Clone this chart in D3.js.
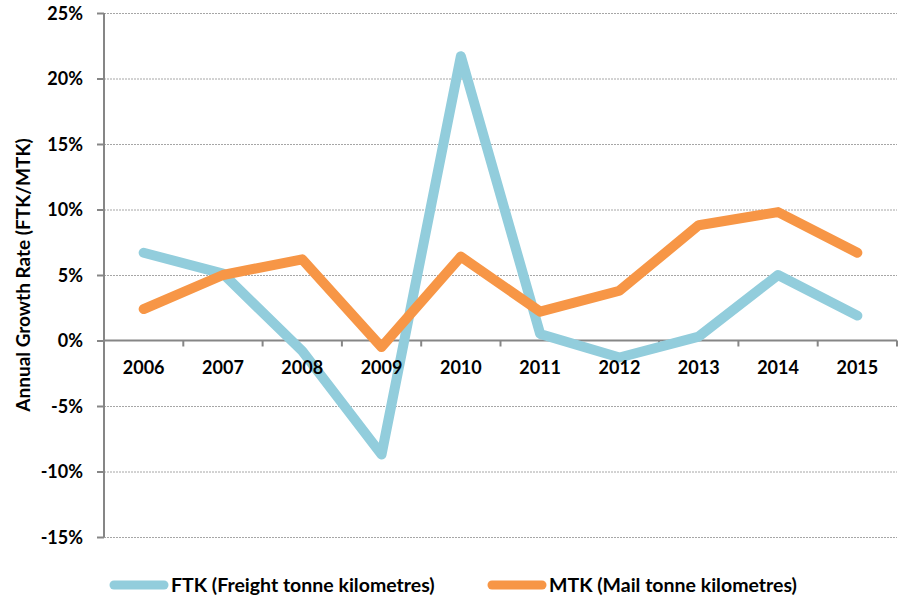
<!DOCTYPE html>
<html>
<head>
<meta charset="utf-8">
<script src="https://cdn.jsdelivr.net/npm/d3@7"></script>
<style>
  body { margin: 0; background: #fff; }
  text { font-family: Lato, "Open Sans", sans-serif; font-weight: bold; fill: #000; }
</style>
</head>
<body>
<svg></svg>
<script>
var width = 899;
var height = 599;

var years = ["2006", "2007", "2008", "2009", "2010", "2011", "2012", "2013", "2014", "2015"];
var ftk = [6.7, 5.1, -0.8, -8.7, 21.7, 0.5, -1.3, 0.3, 5.0, 1.9];
var mtk = [2.4, 5.0, 6.2, -0.5, 6.4, 2.2, 3.8, 8.8, 9.8, 6.7];
var yTicks = [-15, -10, -5, 0, 5, 10, 15, 20, 25];
var seriesNames = ["FTK (Freight tonne kilometres)", "MTK (Mail tonne kilometres)"];
var seriesColors = ["#92cddc", "#f79646"];

var plotLeft = 104, plotRight = 897, plotTop = 13, plotBottom = 537;

var svg = d3.select("svg").attr("width", width).attr("height", height);

var x = d3.scaleBand().domain(years).range([plotLeft, plotRight]).padding(0);
var y = d3.scaleLinear().domain([-15, 25]).range([plotBottom, plotTop]);

// dotted gridlines
svg.append("g").selectAll("line")
  .data(yTicks.filter(function (d) { return d != 0; }))
  .enter().append("line")
  .attr("x1", plotLeft).attr("x2", plotRight)
  .attr("y1", function (d) { return y(d) + 0.5; })
  .attr("y2", function (d) { return y(d) + 0.5; })
  .attr("stroke", "#a6a6a6")
  .attr("stroke-width", 1)
  .attr("stroke-dasharray", "2,1");

// y axis
var yAxis = svg.append("g")
  .attr("transform", "translate(" + plotLeft + ",0)")
  .call(d3.axisLeft(y).tickValues(yTicks).tickSize(7).tickPadding(14)
    .tickFormat(function (d) { return d + "%"; }));
yAxis.selectAll("path, line").attr("stroke", "#868686").attr("stroke-width", 2);
yAxis.select("path").attr("d", "M0," + plotTop + "V" + plotBottom);
yAxis.selectAll("text").style("font-size", "18px").attr("dy", "0.35em");

// x axis on zero line
var xAxis = svg.append("g")
  .attr("transform", "translate(0," + y(0) + ")");
xAxis.append("line")
  .attr("x1", plotLeft).attr("x2", plotRight)
  .attr("stroke", "#868686").attr("stroke-width", 2);
xAxis.selectAll(".tick")
  .data(years)
  .enter().append("line")
  .attr("x1", function (d) { return x(d) + x.bandwidth(); })
  .attr("x2", function (d) { return x(d) + x.bandwidth(); })
  .attr("y1", 0).attr("y2", 6)
  .attr("stroke", "#868686").attr("stroke-width", 2);

// y axis title
svg.append("text")
  .attr("transform", "translate(30," + (plotTop + plotBottom) / 2 + ") rotate(-90)")
  .attr("text-anchor", "middle")
  .style("font-size", "19px")
  .text("Annual Growth Rate (FTK/MTK)");

// lines
var line = d3.line()
  .x(function (d, i) { return x(years[i]) + x.bandwidth() / 2; })
  .y(function (d) { return y(d); });

[ftk, mtk].forEach(function (vals, i) {
  svg.append("path")
    .datum(vals)
    .attr("d", line)
    .attr("fill", "none")
    .attr("stroke", seriesColors[i])
    .attr("stroke-width", 10)
    .attr("stroke-linejoin", "round")
    .attr("stroke-linecap", "round");
});

// year labels sit on top of the lines
svg.append("g")
  .attr("transform", "translate(0," + y(0) + ")")
  .selectAll("text")
  .data(years)
  .enter().append("text")
  .attr("x", function (d) { return x(d) + x.bandwidth() / 2; })
  .attr("y", 33)
  .attr("text-anchor", "middle")
  .style("font-size", "18px")
  .text(function (d) { return d; });

// legend
var legendX = [110, 488];
var legend = svg.append("g");
seriesNames.forEach(function (name, i) {
  legend.append("line")
    .attr("x1", legendX[i] + 4).attr("x2", legendX[i] + 54)
    .attr("y1", 585).attr("y2", 585)
    .attr("stroke", seriesColors[i])
    .attr("stroke-width", 9)
    .attr("stroke-linecap", "round");
  legend.append("text")
    .attr("x", legendX[i] + 61)
    .attr("y", 592)
    .style("font-size", "19.5px")
    .text(name);
});
</script>
</body>
</html>
